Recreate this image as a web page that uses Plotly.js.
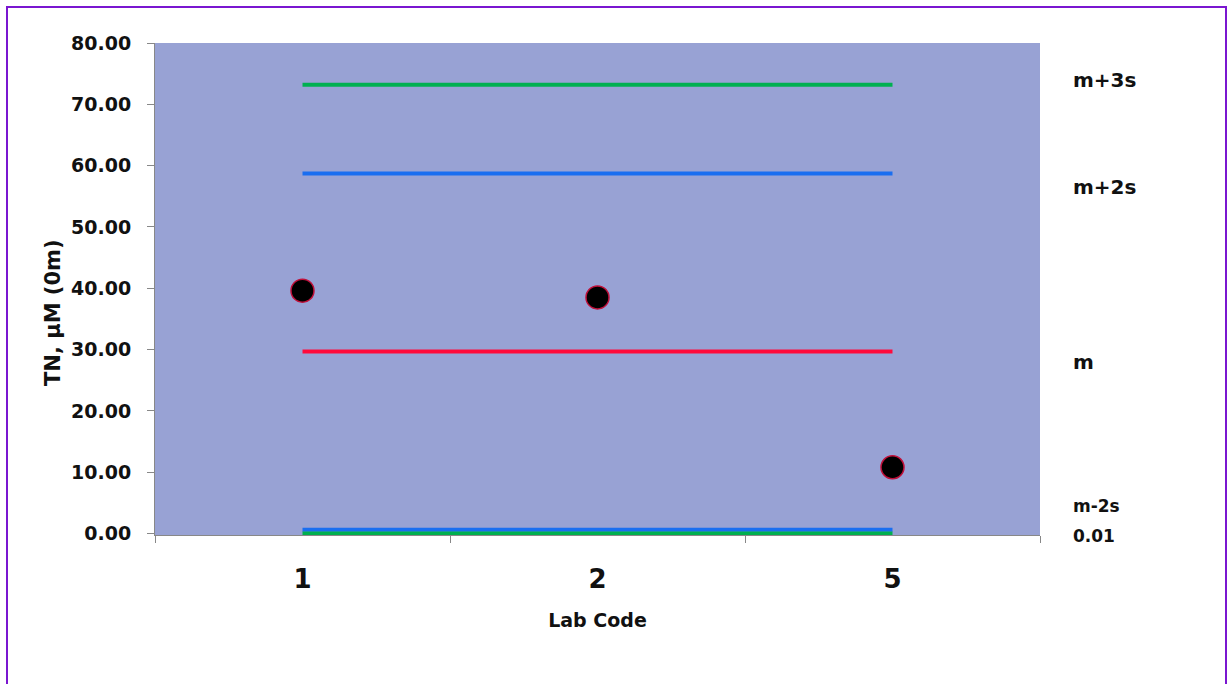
<!DOCTYPE html>
<html><head><meta charset="utf-8">
<script src="https://cdn.plot.ly/plotly-3.0.1.min.js"></script>
<style>
html,body{margin:0;padding:0;background:#fff;}
#frame{position:absolute;left:6px;top:6px;width:1221px;height:690px;border:2px solid #7a16d0;box-sizing:border-box;}
#chart{position:absolute;left:0;top:0;width:1232px;height:684px;}
</style></head>
<body>
<div id="frame"></div>
<div id="chart"></div>
<script>
const labCodes = ["1", "2", "5"];
const labValues = [39.6, 38.5, 10.8];
const limitNames = ["m+3s", "m+2s", "m", "m-2s", "0.01"];
const limitValues = [73.2, 58.7, 29.7, 0.6, 0.01];
const limitColors = ["#00b050", "#1a6ef0", "#ff0a3c", "#1a6ef0", "#00b050"];
const yTickVals = [0, 10, 20, 30, 40, 50, 60, 70, 80];
const yTickText = ["0.00", "10.00", "20.00", "30.00", "40.00", "50.00", "60.00", "70.00", "80.00"];
const yTitle = "TN, µM (0m)";
const xTitle = "Lab Code";
const labelY = [80, 187, 362, 506, 536]; // label pixel rows

const FONT = '"DejaVu Sans", sans-serif';
const traces = [];
limitValues.forEach((v, i) => {
  traces.push({
    x: labCodes, y: labCodes.map(() => v), type: 'scatter', mode: 'lines',
    line: {color: limitColors[i], width: 4}, hoverinfo: 'skip', showlegend: false
  });
});
traces.push({
  x: labCodes, y: labValues, type: 'scatter', mode: 'markers',
  marker: {color: '#000', size: 23, line: {color: '#c0103a', width: 1.5}}, showlegend: false
});

const pTop = 43, pBottom = 535, pLeft = 155, pRight = 1040;
const annotations = limitNames.map((n, i) => ({
  text: n, xref: 'paper', yref: 'paper', x: (1071 - pLeft) / (pRight - pLeft), xanchor: 'left',
  y: (pBottom - labelY[i]) / (pBottom - pTop), yanchor: 'middle', showarrow: false,
  font: {family: FONT, size: i >= 3 ? 17 : 20, color: '#111', weight: 'bold'}
}));
annotations.push({
  text: yTitle, xref: 'paper', yref: 'paper', textangle: -90,
  x: (53 - pLeft) / (pRight - pLeft), xanchor: 'center',
  y: (pBottom - 313) / (pBottom - pTop), yanchor: 'middle', showarrow: false,
  font: {family: FONT, size: 21, color: '#111', weight: 'bold'}
});

const layout = {
  width: 1232, height: 684,
  margin: {l: pLeft, r: 1232 - pRight, t: pTop, b: 684 - pBottom},
  paper_bgcolor: 'rgba(0,0,0,0)', plot_bgcolor: '#98a2d4',
  showlegend: false,
  font: {family: FONT, color: '#111'},
  xaxis: {
    type: 'category', range: [-0.5, 2.5], tickson: 'boundaries',
    ticks: 'outside', ticklen: 7, tickcolor: '#888', showline: true, linecolor: '#888', linewidth: 1,
    showgrid: false, zeroline: false, ticklabelstandoff: 21,
    tickfont: {size: 26, weight: 'bold', family: FONT, color: '#111'},
    title: {text: xTitle, font: {size: 19, weight: 'bold', family: FONT, color: '#111'}, standoff: 20}
  },
  yaxis: {
    range: [-0.25, 80], tickvals: yTickVals, ticktext: yTickText,
    ticks: 'outside', ticklen: 7, tickcolor: '#888', showline: true, linecolor: '#888', linewidth: 1,
    showgrid: false, zeroline: false, ticklabelstandoff: 12,
    tickfont: {size: 19, weight: 'bold', family: FONT, color: '#111'}
  },
  annotations: annotations
};
Plotly.newPlot('chart', traces, layout, {displayModeBar: false, staticPlot: true});
</script>
</body></html>
